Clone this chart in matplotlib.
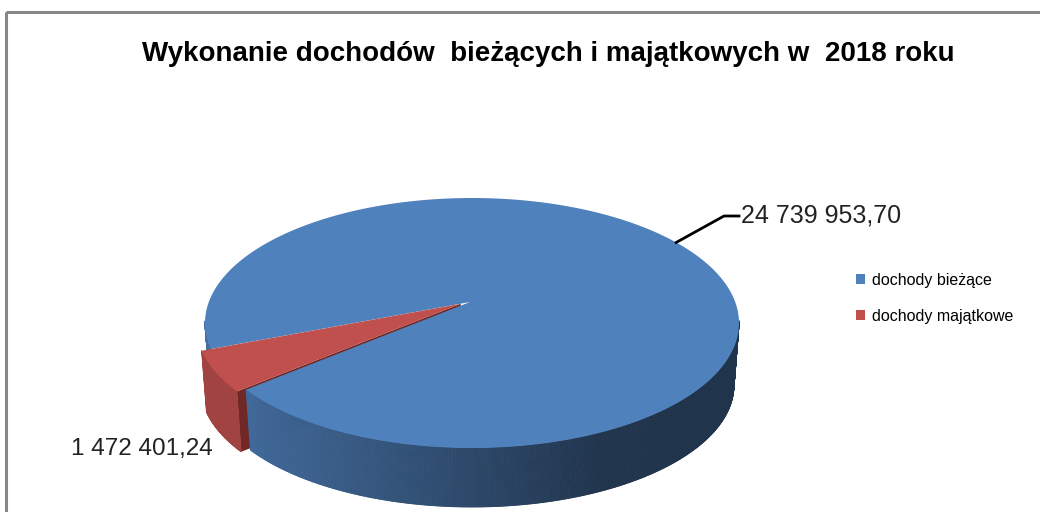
import numpy as np
import matplotlib.pyplot as plt
from matplotlib.patches import Polygon, Rectangle, Patch
from matplotlib.collections import PolyCollection
from matplotlib.colors import to_rgb

title = 'Wykonanie dochodów  bieżących i majątkowych w  2018 roku'
labels = ['dochody bieżące', 'dochody majątkowe']
values = [24739953.70, 1472401.24]
value_texts = ['24 739 953,70', '1 472 401,24']
colors = ['#4f81bd', '#c0504d']

plt.rcParams['font.family'] = ['Liberation Sans', 'DejaVu Sans']

# pie geometry in pixels (rough perspective: apex sits above the rim centre)
cx, cy = 472, 323
a, b = 267, 125
a2, b2 = 262, 122       # bottom rim, a bit smaller
depth = 62
apex = (470, 302)
start = 192.0           # first slice starts here, slices go clockwise
explode = [0, 10]

fig = plt.figure(figsize=(10.4, 5.12), dpi=100)
ax = fig.add_axes([0, 0, 1, 1])
ax.set_xlim(0, 1040)
ax.set_ylim(512, 0)
ax.axis('off')

# chart frame
ax.add_patch(Rectangle((6, 12), 1100, 600, fill=False, ec='#878787', lw=2.2))


def rim(t, off=(0, 0), bottom=False):
    t = np.radians(t)
    if bottom:
        return cx + off[0] + a2 * np.cos(t), cy + depth + off[1] - b2 * np.sin(t)
    return cx + off[0] + a * np.cos(t), cy + off[1] - b * np.sin(t)


def shade(col, x, lo, hi):
    u = np.clip((x - (cx - a)) / (1.5 * a), 0, 1)
    return tuple(np.clip(np.array(to_rgb(col)) * (hi + (lo - hi) * u), 0, 1))


fr = np.array(values) / sum(values)
bounds = []
s = start
for f in fr:
    bounds.append((s - f * 360, s))
    s -= f * 360

offsets = []
for (t0, t1), e in zip(bounds, explode):
    m = np.radians((t0 + t1) / 2)
    offsets.append((e * np.cos(m), -e * np.sin(m) * b / a))

zs = {0: (3, 4), 1: (3.5, 5)}
for i in [0, 1]:
    t0, t1 = bounds[i]
    off = offsets[i]
    ts = np.linspace(t0, t1, int((t1 - t0) * 3) + 2)
    front = np.sin(np.radians(ts)) <= 0.02
    quads, cols = [], []
    lo, hi = (0.40, 0.86) if i == 0 else (0.80, 0.84)
    for k in range(len(ts) - 1):
        if front[k] and front[k + 1]:
            p0, p1 = rim(ts[k], off), rim(ts[k + 1], off)
            q0, q1 = rim(ts[k], off, True), rim(ts[k + 1], off, True)
            quads.append([p0, p1, q1, q0])
            cols.append(shade(colors[i], (p0[0] + p1[0]) / 2, lo, hi))
    ax.add_collection(PolyCollection(quads, facecolors=cols, edgecolors=cols, lw=0.6, zorder=zs[i][0]))
    if explode[i]:
        # radial face of the pulled-out slice
        pr, qr = rim(t1, off), rim(t1, off, True)
        ac = (apex[0] + off[0], apex[1] + off[1])
        ax.add_patch(Polygon([ac, pr, qr, (ac[0], ac[1] + depth)], closed=True,
                             fc='#702826', ec='none', zorder=2))
    top = [(apex[0] + off[0], apex[1] + off[1])] + [rim(t, off) for t in ts]
    ax.add_patch(Polygon(top, closed=True, fc=colors[i], ec='none', zorder=zs[i][1]))

# value labels
t0, t1 = bounds[0]
xm, ym = rim((t0 + t1) / 2 + 18)
ax.plot([xm, 724, 739], [ym, 216, 216], color='black', lw=2, zorder=6)
ax.text(741, 215, value_texts[0], fontsize=18, va='center', ha='left', color='#222222')
ax.text(142, 449, value_texts[1], fontsize=17.5, va='center', ha='center', color='#222222')

ax.text(548, 54, title, fontsize=20, fontweight='bold', ha='center', va='center')

handles = [Patch(fc=c, ec='none') for c in colors]
ax.legend(handles, labels, loc='upper left', bbox_to_anchor=(0.809, 0.495), frameon=False,
          fontsize=11.5, handlelength=0.6, handleheight=0.6, handletextpad=0.4,
          labelspacing=1.3)

plt.savefig('out.png', dpi=100)
